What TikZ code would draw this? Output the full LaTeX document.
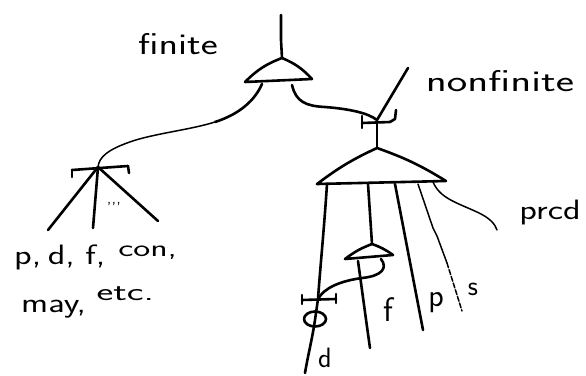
\documentclass[tikz,border=0pt]{standalone}
\usepackage{fontspec}
\newcommand{\hsz}[1]{\sffamily\fontsize{#1}{#1}\selectfont}
\begin{document}
\begin{tikzpicture}[x=1pt,y=-1pt,line cap=round,line join=round,
  stroke/.style={line width=2.6pt},
  fine/.style={line width=1.5pt},
  dotline/.style={line width=1.5pt,dash pattern=on 5pt off 2pt},
  lbl/.style={inner sep=0pt}]
\useasboundingbox (0,0) rectangle (586,375);
% ---------- finite node ----------
\coordinate (top) at (281,15);
\coordinate (fA) at (282,58);
\coordinate (fL) at (245,82);
\coordinate (fR) at (312,79);
\coordinate (fLL) at (262,84);
\coordinate (fRL) at (292,85);
\draw[stroke] (top) -- (281,40) -- (fA);
\draw[stroke] (fL) to[bend left=12] (fA) to[bend left=12] (fR) -- (fL);
% ---------- left T node ----------
\coordinate (tA) at (98,167);
\coordinate (tBL) at (72,170);
\coordinate (tBR) at (128,166);
\coordinate (tL) at (48,230);
\coordinate (tM) at (93,228);
\coordinate (tR) at (158,221);
\draw[stroke] (tBL) -- (tBR);
\draw[stroke] (72,177) -- (tBL);
\draw[stroke] (tBR) -- (129,173);
\draw[stroke] (tA) -- (tL);
\draw[stroke] (tA) -- (tM);
\draw[stroke] (tA) -- (tR);
\node[font=\sffamily\fontsize{16}{16}\selectfont,inner sep=0pt] (dots) at (114,208) {'\kern0.5pt'\kern0.5pt'};
% finite left leg
\draw[stroke] (fLL) .. controls (255,100) and (240,114) .. (215,122);
\draw[fine] (215,122) .. controls (190,130) and (150,134) .. (127,143)
  .. controls (108,150) and (99,157) .. (tA);
% ---------- nonfinite node ----------
\coordinate (nT) at (408,68);
\coordinate (nC) at (377,120);
\coordinate (bA) at (377,148);
\draw[stroke] (fRL) .. controls (296,102) and (306,106) .. (325,107)
  .. controls (350,109) and (368,113) .. (nC);
\draw[stroke] (nT) -- (nC);
\draw[stroke] (362,116) -- (362,128);
\draw[stroke] (362,123) -- (390,122) -- (395,119) -- (396,110);
\draw[stroke] (nC) -- (bA);
% big triangle
\coordinate (bL) at (317,184);
\coordinate (bR) at (446,181);
\draw[stroke] (bL) to[bend left=6] (bA) to[bend left=6] (bR) -- (bL);
% legs
\coordinate (d1) at (327,184);
\coordinate (dT) at (318,299);
\coordinate (dE) at (305,373);
\draw[stroke] (d1) .. controls (324,230) and (320,270) .. (dT)
  -- (315,320) .. controls (312,340) and (308,355) .. (dE);
\coordinate (s2) at (368,184);
\coordinate (sA) at (372,244);
\draw[stroke] (s2) -- (sA);
\coordinate (p1) at (395,184);
\coordinate (pE) at (423,330);
\draw[stroke] (p1) -- (pE);
\coordinate (q1) at (418,184);
\coordinate (qE) at (462,311);
\draw[fine] (q1) -- (433,228) -- (437,236) -- (447,263);
\draw[dotline] (447,263) -- (qE);
% pred curve
\coordinate (pr1) at (433,182);
\coordinate (prE) at (497,230);
\draw[fine] (pr1) .. controls (440,198) and (455,202) .. (477,212)
  .. controls (490,218) and (495,224) .. (prE);
% small triangle
\coordinate (sL) at (345,259);
\coordinate (sR) at (393,255);
\draw[stroke] (sL) to[bend left=8] (sA) to[bend left=8] (sR) -- (sL);
\coordinate (fTop) at (358,261);
\coordinate (fEnd) at (370,348);
\draw[stroke] (fTop) .. controls (362,290) and (366,320) .. (fEnd);
\draw[stroke] (381,259) .. controls (388,268) and (382,276) .. (362,278)
  .. controls (340,281) and (324,288) .. (dT);
% d node
\draw[stroke] (302,300) -- (336,299);
\draw[stroke] (302,295) -- (302,304);
\draw[stroke] (336,294) -- (336,303);
\draw[stroke] (315,319) ellipse [x radius=11,y radius=7.5];
% ---------- labels ----------
\node[lbl,font=\hsz{30}] (lfin) at (178,44) {\scalebox{1.35}[1]{finite}};
\node[lbl,font=\hsz{30}] (lnon) at (500,81) {\scalebox{1.45}[1]{nonfinite}};
\node[lbl,font=\hsz{28}] (lpred) at (550,213) {\scalebox{1.3}[1]{prcd}};
\node[lbl,font=\hsz{28}] (ls) at (473,289) {s};
\node[lbl,font=\hsz{32}] (lp) at (436,303) {p};
\node[lbl,font=\hsz{34}] (lf) at (388,310) {f};
\node[lbl,font=\hsz{28}] (ld) at (325,358) {d};
\node[lbl,font=\hsz{28},anchor=base west] (l1) at (14,264)
  {\scalebox{1.3}[1]{p,\kern5pt d,\kern8pt f,\kern10pt}\raisebox{8pt}{\hsz{24}\scalebox{1.5}[1]{con,}}};
\node[lbl,font=\hsz{28},anchor=base west] (l2) at (21,312)
  {\scalebox{1.3}[1]{may,\kern8pt}\raisebox{12pt}{\hsz{25}\scalebox{1.6}[1]{etc.}}};
\end{tikzpicture}
\end{document}
